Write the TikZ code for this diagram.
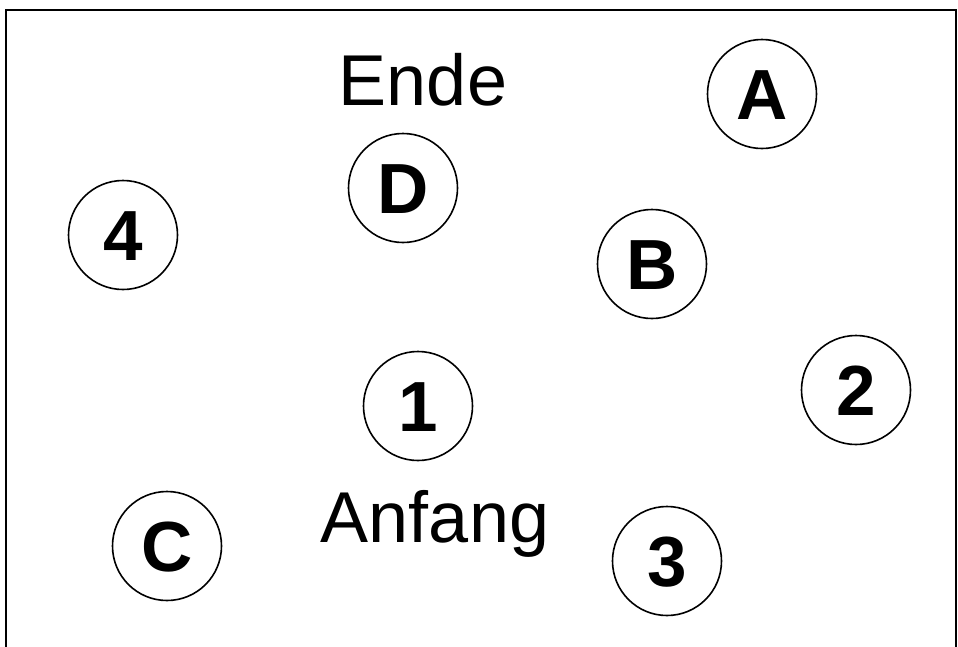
\documentclass[tikz,border=0pt]{standalone}
\usepackage{fontspec}
\setmainfont{Liberation Sans}
\begin{document}
\begin{tikzpicture}[x=1pt,y=-1pt,
  ball/.style={draw,circle,line width=1.6pt,minimum size=109pt,inner sep=0pt,
    font=\fontsize{71}{80}\selectfont\bfseries,text height=51pt,text depth=0pt},
  word/.style={anchor=base,inner sep=0pt,font=\fontsize{72}{80}\selectfont}]
\useasboundingbox (0,0) rectangle (958,646);
\clip (0,0) rectangle (958,646);
\draw[line width=2pt] (6,10) rectangle (956,680);
\node[ball] (A) at (762,94) {A};
\node[ball] (D) at (403,188) {D};
\node[ball] (n4) at (123,235) {4};
\node[ball] (B) at (652,264) {B};
\node[ball] (n2) at (856,390) {2};
\node[ball] (n1) at (418,406) {1};
\node[ball] (C) at (167,546) {C};
\node[ball] (n3) at (667,561) {3};
\node[word] (ende) at (423,105) {Ende};
\node[word] (anfang) at (435,542) {Anfang};
\end{tikzpicture}
\end{document}
